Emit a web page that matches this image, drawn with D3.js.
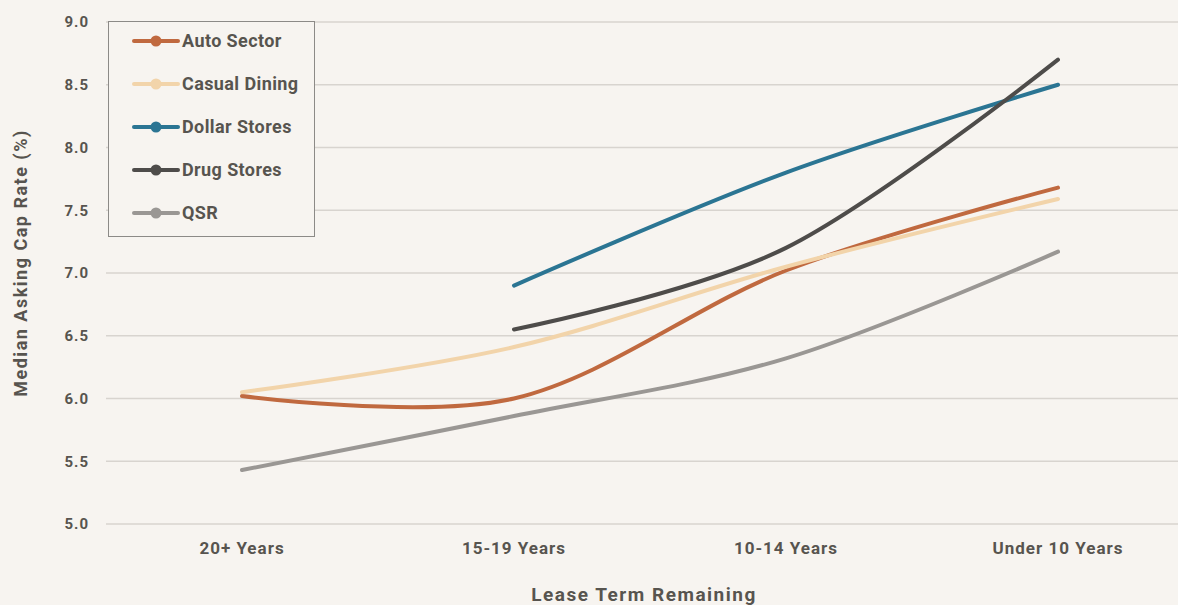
<!DOCTYPE html>
<html>
<head>
<meta charset="utf-8">
<script src="https://cdn.jsdelivr.net/npm/d3@7"></script>
<style>
  html, body { margin: 0; padding: 0; background: #f7f4f0; }
  svg { display: block; }
  text { font-family: Roboto, "DejaVu Sans", sans-serif; font-weight: 700; fill: #57544f; }
</style>
</head>
<body>
<svg id="chart" width="1178" height="605"></svg>
<script>
const categories = ["20+ Years", "15-19 Years", "10-14 Years", "Under 10 Years"];
const seriesNames = ["Auto Sector", "Casual Dining", "Dollar Stores", "Drug Stores", "QSR"];
const autoSector   = [6.02, 6.00, 7.02, 7.68];
const casualDining = [6.05, 6.41, 7.05, 7.59];
const dollarStores = [null, 6.90, 7.80, 8.50];
const drugStores   = [null, 6.55, 7.20, 8.70];
const qsr          = [5.43, 5.86, 6.32, 7.17];
const yTicks = [5.0, 5.5, 6.0, 6.5, 7.0, 7.5, 8.0, 8.5, 9.0];
const colors = ["#c0693f", "#f2d4aa", "#2b7593", "#4e4c4a", "#9a9794"];

const seriesValues = [autoSector, casualDining, dollarStores, drugStores, qsr];

const svg = d3.select("#chart");
const x = d3.scaleBand().domain(categories).range([106, 1194]);
const y = d3.scaleLinear().domain([5, 9]).range([524, 22]);
const cx = c => x(c) + x.bandwidth() / 2;

// grid
svg.append("g").selectAll("line").data(yTicks).join("line")
  .attr("x1", 106).attr("x2", 1178)
  .attr("y1", d => y(d)).attr("y2", d => y(d))
  .attr("stroke", "#d8d4cf").attr("stroke-width", 1.5);

// y tick labels
svg.append("g").selectAll("text").data(yTicks).join("text")
  .attr("x", 89).attr("y", d => y(d)).attr("dy", "0.35em")
  .attr("text-anchor", "end").attr("font-size", 15).attr("letter-spacing", 1)
  .text(d => d.toFixed(1));

// x tick labels
svg.append("g").selectAll("text").data(categories).join("text")
  .attr("x", d => cx(d)).attr("y", 554)
  .attr("text-anchor", "middle").attr("font-size", 17).attr("letter-spacing", 1)
  .text(d => d);

// axis titles
svg.append("text").attr("x", 644).attr("y", 601)
  .attr("text-anchor", "middle").attr("font-size", 19).attr("letter-spacing", 1.5)
  .text("Lease Term Remaining");
svg.append("text")
  .attr("transform", "translate(27,263) rotate(-90)")
  .attr("text-anchor", "middle").attr("font-size", 18).attr("letter-spacing", 1.5)
  .text("Median Asking Cap Rate (%)");

// lines
const line = d3.line()
  .x(d => cx(d.c)).y(d => y(d.v))
  .curve(d3.curveCardinal.tension(0));

seriesNames.forEach((name, i) => {
  const pts = categories.map((c, j) => ({ c, v: seriesValues[i][j] })).filter(d => d.v != null);
  svg.append("path").datum(pts)
    .attr("d", line)
    .attr("fill", "none")
    .attr("stroke", colors[i])
    .attr("stroke-width", 4)
    .attr("stroke-linecap", "round");
});

// legend
const lg = svg.append("g");
lg.append("rect").attr("x", 108.5).attr("y", 21.5).attr("width", 206).attr("height", 215)
  .attr("fill", "#f7f4f0").attr("stroke", "#8c8a87").attr("stroke-width", 1);
seriesNames.forEach((name, i) => {
  const yy = 41 + i * 43;
  lg.append("line").attr("x1", 134).attr("x2", 178).attr("y1", yy).attr("y2", yy)
    .attr("stroke", colors[i]).attr("stroke-width", 4).attr("stroke-linecap", "round");
  lg.append("circle").attr("cx", 156).attr("cy", yy).attr("r", 5.5).attr("fill", colors[i]);
  lg.append("text").attr("x", 182).attr("y", yy).attr("dy", "0.36em")
    .attr("font-size", 18).attr("letter-spacing", 0.4).text(name);
});
</script>
</body>
</html>
